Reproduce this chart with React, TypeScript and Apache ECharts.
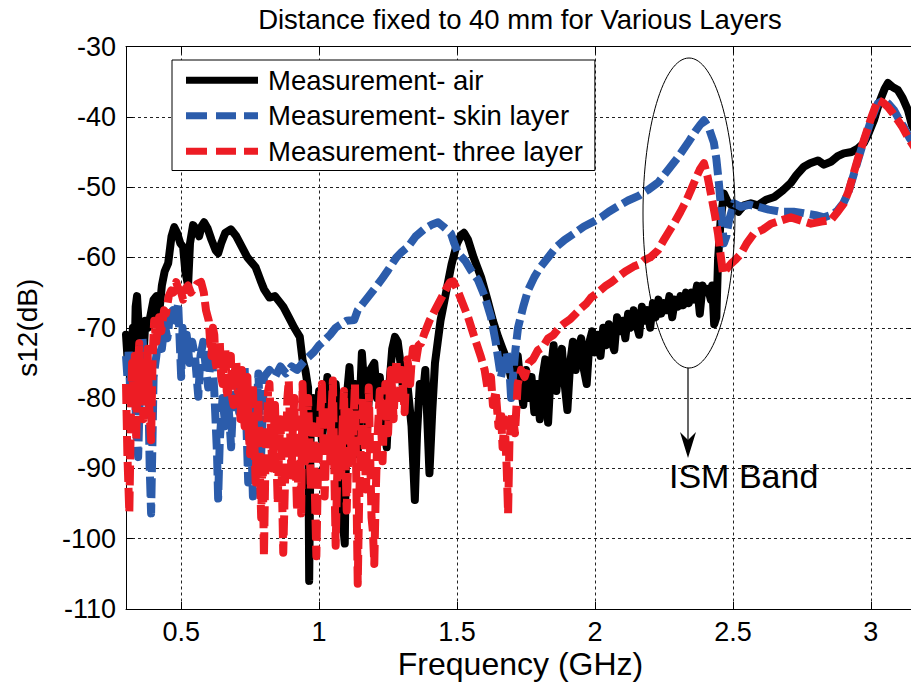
import React, { useEffect, useRef } from "react";
import * as echarts from "echarts";

// ---------- data (frequency in GHz, s12 in dB) ----------
const airFreq = [
  0.3, 0.305, 0.31, 0.315, 0.32, 0.325, 0.33, 0.335, 0.34, 0.345, 0.35, 0.355, 0.36, 0.365, 0.37, 0.38, 0.39, 0.4, 0.41, 0.415, 0.42,
  0.43, 0.44, 0.453, 0.465, 0.475, 0.485, 0.497, 0.507, 0.515, 0.525, 0.532, 0.543, 0.555, 0.565, 0.575, 0.583, 0.595, 0.61, 0.625,
  0.634, 0.645, 0.66, 0.68, 0.7, 0.72, 0.74, 0.77, 0.79, 0.8, 0.82, 0.84, 0.86, 0.87, 0.89, 0.91, 0.93, 0.94, 0.95, 0.96, 0.964,
  0.97, 0.98, 0.99, 1.0, 1.01, 1.02, 1.03, 1.04, 1.05, 1.06, 1.07, 1.08, 1.093, 1.1, 1.11, 1.12, 1.13, 1.14, 1.155, 1.165, 1.175,
  1.185, 1.2, 1.21, 1.22, 1.23, 1.245, 1.255, 1.265, 1.275, 1.285, 1.295, 1.305, 1.315, 1.325, 1.335, 1.347, 1.355, 1.365, 1.375,
  1.385, 1.4, 1.41, 1.42, 1.43, 1.44, 1.46, 1.48, 1.5, 1.515, 1.525, 1.54, 1.56, 1.587, 1.61, 1.63, 1.649, 1.665, 1.685, 1.695,
  1.7, 1.71, 1.72, 1.73, 1.74, 1.75, 1.76, 1.77, 1.78, 1.79, 1.8, 1.81, 1.82, 1.83, 1.84, 1.85, 1.86, 1.87, 1.88, 1.89, 1.9, 1.91,
  1.92, 1.93, 1.94, 1.95, 1.96, 1.97, 1.98, 1.99, 2.0, 2.01, 2.02, 2.03, 2.04, 2.05, 2.06, 2.07, 2.08, 2.09, 2.1, 2.11, 2.12, 2.13,
  2.14, 2.15, 2.16, 2.17, 2.18, 2.19, 2.2, 2.21, 2.22, 2.23, 2.24, 2.25, 2.26, 2.27, 2.28, 2.29, 2.3, 2.31, 2.32, 2.33, 2.34, 2.35,
  2.36, 2.37, 2.38, 2.39, 2.4, 2.41, 2.42, 2.425, 2.432, 2.44, 2.446, 2.455, 2.467, 2.48, 2.5, 2.52, 2.54, 2.565, 2.59, 2.62, 2.65,
  2.68, 2.71, 2.73, 2.757, 2.78, 2.808, 2.83, 2.855, 2.88, 2.902, 2.93, 2.953, 2.975, 2.99, 3.011, 3.03, 3.05, 3.062, 3.08, 3.098,
  3.115, 3.134, 3.149, 3.16,
];
const airS12 = [
  -71, -74, -72, -78, -73, -70, -76, -67, -65.5, -69, -74, -72, -70, -73, -69, -70, -68, -66, -65.5, -69, -68,
  -64, -62, -60.8, -57, -55.7, -56.5, -58, -58.5, -62, -64, -58, -55.4, -56, -57, -55.5, -55, -55.8, -57.5, -59,
  -59.4, -58, -56.5, -56, -57, -58.5, -60, -61.4, -63.5, -64.5, -65.7, -65.5, -66.5, -67, -68.5, -70, -71.3, -74.6, -76, -78.5, -106,
  -82, -80, -84, -79, -86, -82, -77, -80, -88, -78, -83, -95, -100.7, -80, -75.6, -82, -78, -88, -73.6, -79, -84,
  -76, -75, -80, -77, -82, -87, -78, -73, -71.3, -72, -75, -79, -76, -80, -84, -94.5, -85, -78, -80,
  -76, -90.7, -82, -75, -72, -69, -65, -61, -58, -56.8, -56.5, -57.5, -60, -62.8, -66, -69, -71.3, -73, -75, -77,
  -76, -79, -74, -78, -81, -76, -80, -77, -82, -78, -83, -77, -74.5, -83.5, -76, -72.5, -79, -75, -73, -78, -81.7, -75,
  -72, -76, -73, -71.5, -76, -78, -72, -70.5, -73.5, -71, -74, -70, -72.5, -69.5, -72, -73.2, -68.5, -70.5, -69, -71.5, -68, -70,
  -67.5, -69.5, -71, -67, -69, -67.5, -70, -66.5, -68.5, -66, -68, -66.5, -67.5, -65.5, -68.5, -66, -67, -65.5, -66.8, -65, -66.5, -65,
  -66, -64, -68, -64, -65, -64.5, -66, -64, -69.5, -68.5, -60.4, -55, -50.9, -52, -52.8, -53.5, -52.6, -52.3, -52.6, -51.8, -51.4,
  -50.5, -49.4, -48.3, -47.1, -46.6, -46.2, -46.8, -46.4, -45.6, -45.2, -45, -44.5, -43.7, -42.5, -40.5, -38, -36, -35.2, -35.8, -36.2,
  -37.3, -39, -41.2, -42,
];

const skinFreq = [
  0.3, 0.305, 0.31, 0.315, 0.32, 0.325, 0.33, 0.336, 0.344, 0.35, 0.355, 0.36, 0.365, 0.37, 0.375, 0.38, 0.386, 0.391, 0.396, 0.4,
  0.41, 0.42, 0.43, 0.44, 0.45, 0.46, 0.47, 0.48, 0.489, 0.5, 0.505, 0.51, 0.52, 0.53, 0.54, 0.55, 0.562, 0.57, 0.58, 0.59, 0.598,
  0.61, 0.62, 0.63, 0.634, 0.64, 0.65, 0.66, 0.67, 0.681, 0.69, 0.7, 0.71, 0.72, 0.73, 0.743, 0.75, 0.76, 0.77, 0.78, 0.79, 0.8,
  0.82, 0.84, 0.86, 0.88, 0.9, 0.92, 0.94, 0.96, 0.98, 1.0, 1.02, 1.04, 1.06, 1.08, 1.1, 1.127, 1.14, 1.16, 1.18, 1.2, 1.225, 1.25,
  1.28, 1.3, 1.322, 1.35, 1.38, 1.41, 1.431, 1.45, 1.478, 1.49, 1.504, 1.53, 1.55, 1.576, 1.6, 1.623, 1.64, 1.659, 1.67, 1.68, 1.69,
  1.696, 1.705, 1.712, 1.721, 1.74, 1.757, 1.78, 1.8, 1.83, 1.86, 1.89, 1.924, 1.96, 2.0, 2.022, 2.05, 2.08, 2.12, 2.16, 2.192, 2.23,
  2.264, 2.3, 2.337, 2.365, 2.38, 2.395, 2.412, 2.431, 2.44, 2.449, 2.458, 2.467, 2.476, 2.486, 2.504, 2.529, 2.56, 2.591, 2.63,
  2.674, 2.72, 2.757, 2.8, 2.83, 2.86, 2.88, 2.9, 2.917, 2.935, 2.953, 2.97, 2.989, 3.005, 3.025, 3.047, 3.065, 3.083, 3.1, 3.12,
  3.14, 3.16,
];
const skinS12 = [
  -74, -77, -73, -79, -75, -78, -74, -83, -88.4, -80, -74, -71.5, -75, -78, -73, -77, -90, -96.4, -86, -77,
  -74, -70.5, -73, -69.5, -71.5, -68, -67.5, -69, -66.5, -77, -70, -74, -71, -75, -72, -74, -79.8, -74, -72, -76, -78.5,
  -73, -79, -88, -94.3, -86, -80, -84, -80, -87, -79, -76, -82, -77, -75.6, -92, -80, -94, -84, -76.5, -88, -77,
  -76, -77, -75.5, -76.5, -75.5, -76, -75, -74.2, -73.5, -72.5, -71.8, -71, -70, -69.5, -69, -68.9, -67.5, -66.5, -65.5, -64.5, -63.2, -61.8,
  -60, -59.2, -58.5, -57, -56, -55.3, -55, -55.6, -56.6, -58, -59.4, -60.5, -61.8, -63.2, -65.5, -68.5, -72, -77, -75, -73.5, -76,
  -80, -76, -73, -70, -67, -64.7, -62.8, -61.5, -60, -58.5, -57.5, -56.6, -55.6, -54.8, -54.3, -53.5, -52.8, -51.9, -51.2, -50.4, -49.3,
  -47.6, -45.8, -43.7, -42, -41.2, -40.5, -41.5, -43.7, -46, -49.4, -53.5, -58, -57, -54.7, -52.3, -52.8, -52.5, -52.8, -53.2,
  -53.5, -53.5, -53.7, -54, -54.3, -53.9, -53.3, -52.3, -50.9, -48.6, -46.2, -44, -41.9, -40, -38.1, -37.6, -38.2, -39, -40.2, -41.5,
  -43, -44,
];

const threeFreq = [
  0.3, 0.305, 0.312, 0.318, 0.322, 0.327, 0.332, 0.337, 0.342, 0.348, 0.353, 0.358, 0.363, 0.368, 0.373, 0.378, 0.384, 0.391, 0.396,
  0.402, 0.41, 0.42, 0.428, 0.438, 0.445, 0.455, 0.464, 0.472, 0.482, 0.49, 0.5, 0.507, 0.515, 0.525, 0.535, 0.547, 0.557, 0.572,
  0.582, 0.59, 0.6, 0.605, 0.61, 0.615, 0.62, 0.625, 0.63, 0.635, 0.64, 0.645, 0.65, 0.655, 0.66, 0.665, 0.67, 0.675, 0.68, 0.685,
  0.69, 0.695, 0.7, 0.705, 0.71, 0.715, 0.72, 0.725, 0.73, 0.735, 0.74, 0.745,
  0.75, 0.755, 0.76, 0.765, 0.77, 0.775, 0.78, 0.785, 0.79, 0.795, 0.8, 0.805, 0.81, 0.815, 0.82, 0.825, 0.83, 0.835, 0.84, 0.845,
  0.85, 0.855, 0.86, 0.865, 0.87, 0.875, 0.88, 0.885, 0.89, 0.895, 0.9, 0.905, 0.91, 0.915, 0.92, 0.925, 0.93, 0.935, 0.94, 0.945,
  0.95, 0.955, 0.96, 0.965, 0.97, 0.975, 0.98, 0.985, 0.99, 0.995, 1.0, 1.005, 1.01, 1.015, 1.02, 1.025, 1.03, 1.035, 1.04, 1.045,
  1.05, 1.055, 1.06, 1.065, 1.07, 1.075, 1.08, 1.085, 1.09, 1.095, 1.1, 1.105, 1.11, 1.115, 1.12, 1.125, 1.13, 1.135, 1.14, 1.145,
  1.15, 1.155, 1.16, 1.165, 1.17, 1.175, 1.18, 1.185, 1.19, 1.195, 1.2, 1.205, 1.21, 1.215, 1.22, 1.225, 1.23, 1.235, 1.24, 1.245,
  1.25, 1.255, 1.26, 1.265, 1.27, 1.275, 1.28, 1.285, 1.29, 1.295, 1.3, 1.305, 1.31, 1.315, 1.32, 1.325, 1.33, 1.335, 1.34, 1.345,
  1.35, 1.36, 1.37, 1.38, 1.39, 1.4, 1.42, 1.44, 1.46, 1.475, 1.486,
  1.5, 1.52, 1.54, 1.56, 1.587, 1.6, 1.61, 1.623, 1.63, 1.64, 1.65, 1.659, 1.665, 1.672, 1.68, 1.685, 1.69, 1.7, 1.71, 1.72, 1.732,
  1.745, 1.76, 1.775, 1.793, 1.81, 1.83, 1.85, 1.87, 1.888, 1.91, 1.93, 1.95, 1.97, 1.986, 2.01, 2.04, 2.06, 2.083, 2.11, 2.14, 2.16,
  2.178, 2.2, 2.228, 2.25, 2.27, 2.286, 2.31, 2.33, 2.348, 2.365, 2.38, 2.395, 2.408, 2.42, 2.435, 2.446, 2.455, 2.464, 2.48, 2.493,
  2.51, 2.529, 2.55, 2.576, 2.61, 2.638, 2.67, 2.71, 2.75, 2.783, 2.82, 2.855, 2.88, 2.902, 2.92, 2.938, 2.955, 2.975, 3.0, 3.025,
  3.045, 3.062, 3.08, 3.098, 3.115, 3.134, 3.16,
];
const threeS12 = [
  -78, -88, -96.3, -82, -75, -80, -74, -86, -77, -72.2, -79, -74, -83, -76, -80, -73, -81, -86, -75,
  -69, -72, -68.5, -70.5, -67.5, -68, -65.5, -64.7, -65, -63.5, -64.5, -65, -66, -64.5, -64, -65, -64.4, -63.8, -63.5,
  -65, -67.5, -69, -72, -74, -70, -71, -75, -76, -72, -72, -77, -78, -74, -73, -79, -80, -75, -74, -80,
  -81, -76, -75, -79, -79, -83, -76, -81, -84, -79, -77, -85,
  -88, -80, -78, -86, -92, -83, -80, -90, -97, -88, -102.5, -90, -85, -79, -78, -84, -90, -86, -81, -88,
  -95, -87, -83, -92, -102, -94, -87, -80, -77.5, -85, -91, -84, -80, -89, -96, -90, -83, -96.4, -78, -84,
  -89, -85, -80, -86, -93, -88, -84, -94, -102.5, -92, -87, -82, -78, -86, -94, -88, -81, -85, -89, -82,
  -77.5, -90, -101, -92, -85, -88, -91, -84, -79, -88, -96, -89, -82, -86, -89, -83, -78, -92, -106.4, -95,
  -88, -84, -80, -87, -93, -85, -78.5, -88, -97, -99, -103.6, -94, -87, -83, -79, -84, -89, -83, -78, -82,
  -85, -80, -76, -79, -83, -78, -74.6, -77, -80, -78, -76, -79, -82, -77, -74.5, -76, -78, -75, -73, -74,
  -75, -72.5, -72.2, -71, -70, -69, -67.5, -66, -64.5, -63.5, -63.4,
  -64.5, -66.5, -68.5, -71, -74.2, -76, -78.5, -77, -81, -79, -84, -81.7, -87, -83, -90, -96.4, -86, -82, -85, -78, -76,
  -77, -75, -74.5, -73.2, -72.8, -71.5, -71, -70, -69.4, -68.8, -68, -67.2, -66.5, -65.7, -65, -64, -63.5, -62.8, -62, -61.3, -61,
  -60.4, -60, -59, -57.5, -56.2, -55.2, -53.5, -52, -50.4, -48.8, -47.5, -46.6, -48.5, -50.9, -54, -56.6, -59.5, -62.3, -61.5, -60.9,
  -60.3, -59.5, -58, -56.6, -56, -55.2, -54.8, -54.3, -54.8, -55.2, -54.9, -54.7, -53.5, -52.3, -50.5, -48, -45.7, -43.3, -40.3, -37.6,
  -38, -38.6, -39.5, -40.5, -41.5, -42.9, -44.5,
];

const seriesNames = ["Measurement- air", "Measurement- skin layer", "Measurement- three layer"];
const titleText = "Distance fixed to 40 mm for Various Layers";
const xAxisName = "Frequency (GHz)";
const yAxisName = "s12(dB)";
const annotationText = "ISM Band";

const FONT = "'Liberation Sans', Arial, Helvetica, sans-serif";
const SOLID_ICON = "path://M0,0h72v7h-72z";
const DASH_ICON = "path://M0,0h21v7h-21z M30,0h20v7h-20z M58,0h14v7h-14z";

export default function App() {
  const ref = useRef<HTMLDivElement>(null);
  useEffect(() => {
    if (!ref.current) return;
    const chart = echarts.init(ref.current, null, { renderer: "svg" });
    const zip = (f: number[], v: number[]) => f.map((x, i) => [x, v[i]]);
    const xMin = 0.3;
    const xMax = 3.16;
    const gridLine = { show: true, lineStyle: { color: "#222", width: 1, type: [3, 3] } };
    const tick = { show: true, inside: true, length: 7, lineStyle: { color: "#000", width: 1 } };
    const axisLine = { show: true, onZero: false, lineStyle: { color: "#000", width: 1 } };
    const labelStyle = { fontFamily: FONT, fontSize: 27, color: "#000" };
    const colors = ["#000000", "#2B5CAB", "#ED1C24"];

    const option: any = {
      animation: false,
      backgroundColor: "#fff",
      title: {
        text: titleText,
        left: 515,
        top: 0,
        textAlign: "center",
        textStyle: { fontFamily: FONT, fontSize: 27.5, fontWeight: "normal", color: "#000" },
      },
      grid: { left: 126, top: 46.5, width: 789, bottom: 80, outerBoundsMode: "none", containLabel: false },
      legend: {
        orient: "vertical",
        left: 172,
        top: 60,
        padding: [5, 12, 4, 14],
        itemGap: 5,
        itemWidth: 72,
        itemHeight: 7,
        selectedMode: false,
        backgroundColor: "#fff",
        borderColor: "#000",
        borderWidth: 1,
        borderRadius: 0,
        textStyle: { fontFamily: FONT, fontSize: 27.5, color: "#000", lineHeight: 30.5, padding: [0, 0, 0, 5] },
        data: [
          { name: seriesNames[0], icon: SOLID_ICON, itemStyle: { color: colors[0], borderWidth: 0 } },
          { name: seriesNames[1], icon: DASH_ICON, itemStyle: { color: colors[1], borderWidth: 0 } },
          { name: seriesNames[2], icon: DASH_ICON, itemStyle: { color: colors[2], borderWidth: 0 } },
        ],
      },
      xAxis: [
        {
          type: "value",
          min: xMin,
          max: xMax,
          position: "bottom",
          axisLine,
          axisTick: tick,
          axisLabel: { ...labelStyle, lineHeight: 27, margin: 9, showMinLabel: false, showMaxLabel: false },
          splitLine: gridLine,
          name: xAxisName,
          nameLocation: "middle",
          nameGap: 40,
          nameMoveOverlap: false,
          nameTextStyle: { fontFamily: FONT, fontSize: 32, lineHeight: 30, color: "#000" },
        },
        {
          type: "value",
          min: xMin,
          max: xMax,
          position: "top",
          axisLine,
          axisTick: tick,
          axisLabel: { show: false },
          splitLine: { show: false },
        },
      ],
      yAxis: [
        {
          type: "value",
          min: -110,
          max: -30,
          interval: 10,
          position: "left",
          axisLine,
          axisTick: tick,
          axisLabel: { ...labelStyle, margin: 10 },
          splitLine: gridLine,
          name: yAxisName,
          nameLocation: "middle",
          nameGap: 85,
          nameMoveOverlap: false,
          nameTextStyle: { fontFamily: FONT, fontSize: 28, color: "#000" },
        },
        {
          type: "value",
          min: -110,
          max: -30,
          interval: 10,
          position: "right",
          axisLine,
          axisTick: tick,
          axisLabel: { show: false },
          splitLine: { show: false },
        },
      ],
      series: [
        {
          name: seriesNames[0],
          type: "line",
          data: zip(airFreq, airS12),
          showSymbol: false,
          symbol: "none",
          itemStyle: { color: colors[0] },
          lineStyle: { color: colors[0], width: 8, join: "round", cap: "round" },
          z: 2,
        },
        {
          name: seriesNames[1],
          type: "line",
          data: zip(skinFreq, skinS12),
          showSymbol: false,
          symbol: "none",
          itemStyle: { color: colors[1] },
          lineStyle: { color: colors[1], width: 8, type: [20, 6], join: "round", cap: "butt" },
          z: 3,
        },
        {
          name: seriesNames[2],
          type: "line",
          data: zip(threeFreq, threeS12),
          showSymbol: false,
          symbol: "none",
          itemStyle: { color: colors[2] },
          lineStyle: { color: colors[2], width: 8, type: [20, 6], join: "round", cap: "butt" },
          z: 4,
        },
      ],
      graphic: [
        {
          type: "ellipse",
          shape: { cx: 689, cy: 213, rx: 46, ry: 155 },
          style: { fill: "none", stroke: "#000", lineWidth: 1 },
          z: 100,
        },
        {
          type: "line",
          shape: { x1: 688, y1: 368, x2: 688, y2: 445 },
          style: { stroke: "#000", lineWidth: 1.2 },
          z: 100,
        },
        {
          type: "polygon",
          shape: { points: [[688, 458], [680, 432], [688, 440], [696, 432]] },
          style: { fill: "#000" },
          z: 100,
        },
        {
          type: "text",
          x: 669,
          y: 476,
          style: { text: annotationText, fontFamily: FONT, fontSize: 34, fill: "#000", verticalAlign: "middle" },
          z: 100,
        },
      ],
    };
    chart.setOption(option);
    return () => chart.dispose();
  }, []);
  return <div ref={ref} style={{ position: "fixed", left: 0, top: 0, width: 911, height: 689 }} />;
}
